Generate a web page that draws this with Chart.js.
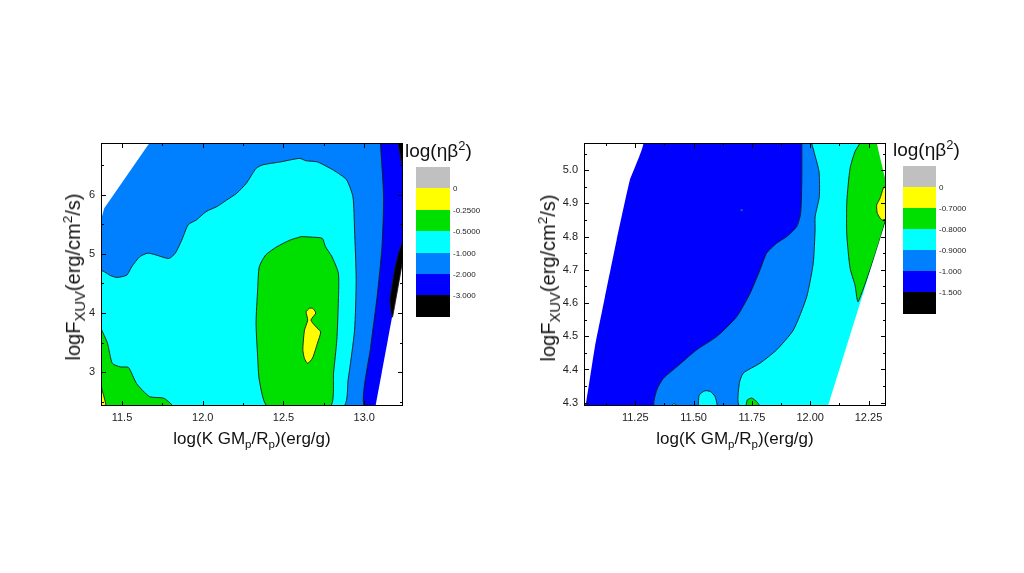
<!DOCTYPE html>
<html>
<head>
<meta charset="utf-8">
<script src="https://cdn.jsdelivr.net/npm/chart.js@4.4.1/dist/chart.umd.min.js"></script>
<style>
  body { margin: 0; background: #fff; width: 1024px; height: 573px; overflow: hidden; position: relative;
         font-family: "Liberation Sans", Arial, sans-serif; }
  canvas { position: absolute; top: 0; }
  .t { position: absolute; white-space: nowrap; color: #111; line-height: 1; }
  .t sub, .t sup { font-size: 68%; line-height: 0; }
  .ytitle { transform: translate(-50%, -50%) rotate(-90deg); }
  .ytitle sub { font-size: 74%; }
  .xtitle { transform: translate(-50%, -50%); }
  .box { position: absolute; }
  .lev { position: absolute; font-size: 8px; color: #222; transform: translateY(-50%); }
</style>
</head>
<body>
<canvas id="left" width="512" height="573" style="left:0"></canvas>
<canvas id="right" width="512" height="573" style="left:512px"></canvas>

<div class="t xtitle" style="left:252px; top:438px; font-size:17px">log(K GM<sub>p</sub>/R<sub>p</sub>)(erg/g)</div>
<div class="t ytitle" style="left:73px; top:277px; font-size:20px">logF<sub>XUV</sub>(erg/cm<sup>2</sup>/s)</div>
<div class="t xtitle" style="left:735px; top:438px; font-size:17px">log(K GM<sub>p</sub>/R<sub>p</sub>)(erg/g)</div>
<div class="t ytitle" style="left:548px; top:278px; font-size:20px">logF<sub>XUV</sub>(erg/cm<sup>2</sup>/s)</div>
<div class="t" style="left:405px; top:141px; font-size:19px">log(ηβ<sup>2</sup>)</div>
<div class="t" style="left:893px; top:140px; font-size:19px">log(ηβ<sup>2</sup>)</div>

<script>
// colour key, shared by both panels (top = highest)
const bandColors = ['#c0c0c0', '#ffff00', '#00e000', '#00ffff', '#0080ff', '#0000ff', '#000000'];
const leftLevels = ['0', '-0.2500', '-0.5000', '-1.000', '-2.000', '-3.000'];
const rightLevels = ['0', '-0.7000', '-0.8000', '-0.9000', '-1.000', '-1.500'];

// axes
const leftXRange = [11.37, 13.24];
const leftYRange = [2.43, 6.87];
const leftTickX = [11.5, 12.0, 12.5, 13.0];
const leftMinorX = [11.75, 12.25, 12.75];
const leftTickY = [3, 4, 5, 6];
const leftMinorY = [2.5, 3.5, 4.5, 5.5, 6.5];

const rightXRange = [11.03, 12.325];
const rightYRange = [4.29, 5.082];
const rightTickX = [11.25, 11.5, 11.75, 12.0, 12.25];
const rightMinorX = [11.125, 11.375, 11.625, 11.875, 12.125];
const rightTickY = [4.3, 4.4, 4.5, 4.6, 4.7, 4.8, 4.9, 5.0];
const rightMinorY = [4.35, 4.45, 4.55, 4.65, 4.75, 4.85, 4.95, 5.05];

// left panel contour bands, [logK, logF] outlines
const leftFull = [[11.37, 2.43], [13.24, 2.43], [13.24, 6.87], [11.37, 6.87]];
const leftNoDataTop = [[11.37, 6.87], [11.67, 6.87], [11.39, 5.77], [11.37, 5.57]];
const leftNoDataBottom = [[13.07, 2.43], [13.24, 2.43], [13.24, 4.93]];
const leftBlue2 = [[13.10, 6.87], [13.24, 6.87], [13.24, 2.43], [13.00, 2.43], [13.04, 3.43],
  [13.08, 4.28], [13.11, 5.12], [13.12, 5.96]];
const leftBlack1 = [[13.21, 6.87], [13.24, 6.87], [13.24, 6.45], [13.225, 6.62]];
const leftBlack2 = [[13.24, 5.23], [13.215, 5.03], [13.19, 4.76], [13.172, 4.47], [13.159, 4.22],
  [13.166, 4.02], [13.175, 3.93], [13.24, 4.93]];
const leftCyan = [[11.37, 2.43], [12.87, 2.43], [12.90, 2.87], [12.94, 3.71], [12.95, 4.56], [12.94, 5.40],
  [12.93, 5.96], [12.89, 6.25], [12.81, 6.41], [12.71, 6.55], [12.64, 6.57], [12.60, 6.61], [12.48, 6.55],
  [12.37, 6.50], [12.33, 6.44], [12.27, 6.19], [12.21, 6.02], [12.15, 5.91], [12.09, 5.80], [12.02, 5.71],
  [11.96, 5.57], [11.91, 5.49], [11.87, 5.23], [11.83, 5.01], [11.79, 4.92], [11.71, 4.98], [11.66, 5.01],
  [11.61, 4.95], [11.56, 4.78], [11.53, 4.64], [11.47, 4.60], [11.43, 4.63], [11.37, 4.71]];
const leftGreenLow = [[11.37, 3.74], [11.41, 3.49], [11.44, 3.15], [11.49, 3.09], [11.54, 3.08],
  [11.59, 2.81], [11.67, 2.59], [11.76, 2.56], [11.81, 2.43], [11.37, 2.43]];
const leftYellowLow = [[11.37, 2.77], [11.38, 2.67], [11.40, 2.43], [11.37, 2.43]];
const leftGreenMid = [[12.61, 5.29], [12.68, 5.28], [12.74, 5.26], [12.76, 5.12], [12.80, 4.95], [12.84, 4.67],
  [12.84, 4.22], [12.83, 3.54], [12.81, 2.99], [12.79, 2.43], [12.40, 2.43], [12.35, 2.87], [12.34, 3.26],
  [12.33, 3.83], [12.34, 4.39], [12.35, 4.78], [12.39, 4.98], [12.46, 5.12], [12.54, 5.23]];
const leftYellowMid = [[12.66, 4.08], [12.64, 4.02], [12.65, 3.88], [12.63, 3.71], [12.62, 3.38], [12.63, 3.23],
  [12.65, 3.15], [12.68, 3.24], [12.71, 3.49], [12.73, 3.68], [12.70, 3.77], [12.67, 3.88], [12.70, 4.00],
  [12.68, 4.08]];

// right panel contour bands
const rightFull = [[11.03, 4.29], [12.325, 4.29], [12.325, 5.082], [11.03, 5.082]];
const rightNoDataLeft = [[11.03, 5.082], [11.284, 5.082], [11.227, 4.971], [11.170, 4.790], [11.120, 4.619],
  [11.077, 4.469], [11.039, 4.300], [11.03, 4.29]];
const rightNoDataCorner = [[12.285, 5.082], [12.325, 5.082], [12.325, 4.962]];
const rightNoDataRight = [[12.325, 4.850], [12.325, 4.29], [12.076, 4.29]];
const rightBlue1 = [[11.964, 5.082], [11.964, 4.971], [11.959, 4.870], [11.942, 4.830], [11.899, 4.800],
  [11.856, 4.780], [11.813, 4.750], [11.785, 4.700], [11.742, 4.629], [11.685, 4.559], [11.599, 4.499],
  [11.513, 4.459], [11.428, 4.408], [11.370, 4.373], [11.342, 4.338], [11.334, 4.29], [12.325, 4.29],
  [12.325, 5.082]];
const rightCyan = [[12.006, 5.082], [12.020, 5.046], [12.038, 4.995], [12.039, 4.920], [12.021, 4.860],
  [12.021, 4.820], [12.013, 4.720], [11.985, 4.619], [11.928, 4.519], [11.856, 4.459], [11.785, 4.419],
  [11.713, 4.389], [11.696, 4.358], [11.699, 4.29], [12.325, 4.29], [12.325, 5.082]];
const rightGreen = [[12.214, 5.082], [12.192, 5.056], [12.171, 5.006], [12.157, 4.905], [12.157, 4.805],
  [12.171, 4.705], [12.192, 4.654], [12.206, 4.604], [12.325, 4.856], [12.325, 4.962], [12.285, 5.082]];
const rightYellow = [[12.313, 4.946], [12.299, 4.915], [12.285, 4.895], [12.288, 4.870], [12.307, 4.850],
  [12.325, 4.855], [12.325, 4.952]];
const rightCyanBump = [[11.520, 4.29], [11.524, 4.323], [11.549, 4.336], [11.573, 4.333], [11.592, 4.318],
  [11.599, 4.29]];
const rightCyanNub = [[11.403, 4.29], [11.416, 4.297], [11.429, 4.29]];
const rightGreenBump = [[11.725, 4.29], [11.730, 4.308], [11.749, 4.314], [11.771, 4.303], [11.782, 4.29]];
const rightSpot = [[11.706, 4.880]];

const tickFont = '"Liberation Sans", Arial, sans-serif';

function poly(pts, color, edged, tension) {
  const closed = pts.concat([pts[0]]);
  return {
    data: closed.map(p => ({x: p[0], y: p[1]})),
    backgroundColor: color,
    borderColor: edged ? '#1a1a1a' : 'rgba(0,0,0,0)',
    borderWidth: edged ? 0.9 : 0,
    fill: 'shape',
    pointRadius: 0,
    tension: tension === undefined ? 0.2 : tension
  };
}

// box round the plot and inward ticks on all four sides
const framePlugin = {
  id: 'frame',
  afterDraw(chart, args, o) {
    const {ctx, chartArea: a} = chart;
    const sx = chart.scales.x, sy = chart.scales.y;
    ctx.save();
    ctx.strokeStyle = '#000';
    ctx.lineWidth = 1;
    ctx.strokeRect(a.left + 0.5, a.top + 0.5, a.width - 1, a.height - 1);
    ctx.beginPath();
    function xt(vals, len) {
      vals.forEach(v => {
        const p = Math.round(sx.getPixelForValue(v)) + 0.5;
        ctx.moveTo(p, a.bottom); ctx.lineTo(p, a.bottom - len);
        ctx.moveTo(p, a.top); ctx.lineTo(p, a.top + len);
      });
    }
    function yt(vals, len) {
      vals.forEach(v => {
        const p = Math.round(sy.getPixelForValue(v)) + 0.5;
        ctx.moveTo(a.left, p); ctx.lineTo(a.left + len, p);
        ctx.moveTo(a.right, p); ctx.lineTo(a.right - len, p);
      });
    }
    xt(o.xMajor, 5); xt(o.xMinor, 3);
    yt(o.yMajor, 5); yt(o.yMinor, 3);
    ctx.stroke();
    ctx.restore();
  }
};

function axis(range, ticks, digits, horiz) {
  return {
    type: 'linear', min: range[0], max: range[1],
    grid: {display: false, drawTicks: false},
    border: {display: false},
    ticks: {
      autoSkip: false, maxRotation: 0, padding: horiz ? 5 : 6, color: '#222',
      font: {family: tickFont, size: 11},
      callback: v => Number(v).toFixed(digits)
    },
    afterBuildTicks: s => { s.ticks = ticks.map(v => ({value: v})); },
    afterFit: s => { if (horiz) s.height = 20; else s.width = 30; }
  };
}

function contourChart(id, c) {
  const n = c.layers.length;
  c.layers.forEach((d, i) => { d.order = n - i; });
  return new Chart(document.getElementById(id), {
    type: 'line',
    data: {datasets: c.layers},
    options: {
      responsive: false, animation: false, events: [],
      layout: {padding: c.padding},
      plugins: {
        legend: {display: false}, tooltip: {enabled: false},
        frame: {xMajor: c.xTicks, xMinor: c.xMinor, yMajor: c.yTicks, yMinor: c.yMinor}
      },
      scales: {
        x: axis(c.xRange, c.xTicks, c.xDigits, true),
        y: axis(c.yRange, c.yTicks, c.yDigits, false)
      }
    },
    plugins: [framePlugin]
  });
}

const C = bandColors;

contourChart('left', {
  padding: {left: 71, right: 109, top: 143, bottom: 147},
  xRange: leftXRange, yRange: leftYRange, xTicks: leftTickX, xMinor: leftMinorX,
  yTicks: leftTickY, yMinor: leftMinorY, xDigits: 1, yDigits: 0,
  layers: [
    poly(leftFull, C[4], false, 0),
    poly(leftNoDataTop, '#ffffff', false, 0),
    poly(leftBlue2, C[5], true),
    poly(leftNoDataBottom, '#ffffff', false, 0),
    poly(leftBlack1, C[6], true, 0),
    poly(leftBlack2, C[6], true, 0.1),
    poly(leftCyan, C[3], true),
    poly(leftGreenLow, C[2], true),
    poly(leftYellowLow, C[1], true),
    poly(leftGreenMid, C[2], true),
    poly(leftYellowMid, C[1], true)
  ]
});

const spot = {
  data: rightSpot.map(p => ({x: p[0], y: p[1]})), showLine: false,
  pointRadius: 1.2, pointBackgroundColor: '#1060c0', pointBorderWidth: 0
};

contourChart('right', {
  padding: {left: 42, right: 138, top: 143, bottom: 147},
  xRange: rightXRange, yRange: rightYRange, xTicks: rightTickX, xMinor: rightMinorX,
  yTicks: rightTickY, yMinor: rightMinorY, xDigits: 2, yDigits: 1,
  layers: [
    poly(rightFull, C[5], false, 0),
    poly(rightBlue1, C[4], true),
    poly(rightCyan, C[3], true),
    poly(rightGreen, C[2], true),
    poly(rightYellow, C[1], true),
    poly(rightNoDataLeft, '#ffffff', false, 0.1),
    poly(rightNoDataCorner, '#ffffff', false, 0),
    poly(rightNoDataRight, '#ffffff', false, 0),
    poly(rightCyanBump, C[3], true),
    poly(rightCyanNub, C[3], true),
    poly(rightGreenBump, C[2], true),
    spot
  ]
});

// colour keys
function colorKey(left, top, w, h, labels) {
  bandColors.forEach((col, i) => {
    const b = document.createElement('div');
    b.className = 'box';
    b.style.cssText = `left:${left}px;top:${top + i * h}px;width:${w}px;height:${h + 0.5}px;background:${col}`;
    document.body.appendChild(b);
  });
  labels.forEach((txt, i) => {
    const l = document.createElement('div');
    l.className = 'lev';
    l.textContent = txt;
    l.style.left = (left + w + 3) + 'px';
    l.style.top = (top + (i + 1) * h) + 'px';
    document.body.appendChild(l);
  });
}
colorKey(416, 167, 34, 21.4, leftLevels);
colorKey(903, 166, 33, 21, rightLevels);
</script>
</body>
</html>
